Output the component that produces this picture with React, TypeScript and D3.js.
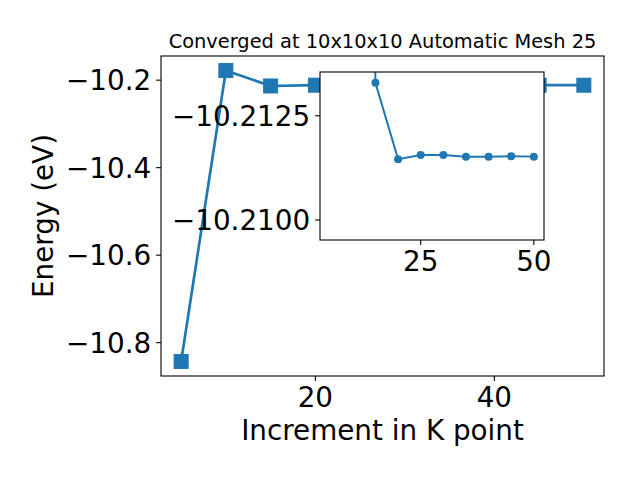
import { useEffect, useRef } from 'react';
import * as d3 from 'd3';

// k-point increments and total energies (eV)
const kPoints = [5, 10, 15, 20, 25, 30, 35, 40, 45, 50];
const energy = [-10.843, -10.178, -10.21329, -10.21146, -10.21156, -10.21156, -10.21152, -10.21152, -10.21153, -10.21152];

// zoomed inset series (first point falls above the inset window)
const insetK = [10, 15, 20, 25, 30, 35, 40, 45, 50];
const insetEnergy = [-10.25, -10.21329, -10.21146, -10.21156, -10.21156, -10.21152, -10.21152, -10.21153, -10.21152];

const xTicks = [20, 40];
const yTicks = [-10.8, -10.6, -10.4, -10.2];
const insetXTicks = [25, 50];
const insetYTicks = [-10.2125, -10.21];

const title = 'Converged at 10x10x10 Automatic Mesh 25';
const xLabel = 'Increment in K point';
const yLabel = 'Energy (eV)';

const BLUE = '#1f77b4';
const FONT = 'DejaVu Sans, sans-serif';
const minus = (s: string) => s.replace('-', '\u2212');

export default function App() {
    const ref = useRef<SVGSVGElement>(null);

    useEffect(() => {
        const svg = d3.select(ref.current);
        svg.selectAll('*').remove();

        const W = 640, H = 480;
        const main = { left: 161, right: 604, top: 56, bottom: 376 };
        const ins = { left: 320, right: 544, top: 72, bottom: 240 };
        const tickLen = 4.9;
        const pad = 4.9;

        svg.append('rect').attr('width', W).attr('height', H).attr('fill', 'white');

        const xExt = d3.extent(kPoints) as [number, number];
        const xm = (xExt[1] - xExt[0]) * 0.05;
        const yExt = d3.extent(energy) as [number, number];
        const ym = (yExt[1] - yExt[0]) * 0.05;

        const x = d3.scaleLinear().domain([xExt[0] - xm, xExt[1] + xm]).range([main.left, main.right]);
        const y = d3.scaleLinear().domain([yExt[0] - ym, yExt[1] + ym]).range([main.bottom, main.top]);

        const defs = svg.append('defs');
        defs.append('clipPath').attr('id', 'clipMain').append('rect')
            .attr('x', main.left).attr('y', main.top)
            .attr('width', main.right - main.left).attr('height', main.bottom - main.top);
        defs.append('clipPath').attr('id', 'clipInset').append('rect')
            .attr('x', ins.left).attr('y', ins.top)
            .attr('width', ins.right - ins.left).attr('height', ins.bottom - ins.top);

        // main series
        const gMain = svg.append('g').attr('clip-path', 'url(#clipMain)');
        const line = d3.line<number>()
            .x((_, i) => x(kPoints[i]))
            .y(d => y(d));
        gMain.append('path')
            .datum(energy)
            .attr('fill', 'none')
            .attr('stroke', BLUE)
            .attr('stroke-width', 2.7)
            .attr('d', line);
        const sq = 14;
        gMain.selectAll('rect.m')
            .data(energy)
            .enter()
            .append('rect')
            .attr('x', (_, i) => x(kPoints[i]) - sq / 2)
            .attr('y', d => y(d) - sq / 2)
            .attr('width', sq)
            .attr('height', sq)
            .attr('fill', BLUE)
            .attr('stroke', BLUE)
            .attr('stroke-width', 1);

        // main frame
        svg.append('rect')
            .attr('x', main.left).attr('y', main.top)
            .attr('width', main.right - main.left).attr('height', main.bottom - main.top)
            .attr('fill', 'none').attr('stroke', 'black').attr('stroke-width', 1.1);

        // main ticks
        xTicks.forEach(t => {
            svg.append('line')
                .attr('x1', x(t)).attr('x2', x(t))
                .attr('y1', main.bottom).attr('y2', main.bottom + tickLen)
                .attr('stroke', 'black').attr('stroke-width', 1.1);
            svg.append('text')
                .attr('x', x(t)).attr('y', main.bottom + tickLen + pad + 21)
                .attr('text-anchor', 'middle')
                .attr('font-family', FONT).attr('font-size', 27.8)
                .text(String(t));
        });
        yTicks.forEach(t => {
            svg.append('line')
                .attr('x1', main.left - tickLen).attr('x2', main.left)
                .attr('y1', y(t)).attr('y2', y(t))
                .attr('stroke', 'black').attr('stroke-width', 1.1);
            svg.append('text')
                .attr('x', main.left - tickLen - pad).attr('y', y(t) + 10)
                .attr('text-anchor', 'end')
                .attr('font-family', FONT).attr('font-size', 27.8)
                .text(minus(d3.format('.1f')(t)));
        });

        // labels and title
        svg.append('text')
            .attr('x', (main.left + main.right) / 2).attr('y', 440)
            .attr('text-anchor', 'middle')
            .attr('font-family', FONT).attr('font-size', 27.8)
            .text(xLabel);
        svg.append('text')
            .attr('transform', `translate(53,${(main.top + main.bottom) / 2}) rotate(-90)`)
            .attr('text-anchor', 'middle')
            .attr('font-family', FONT).attr('font-size', 27.8)
            .text(yLabel);
        svg.append('text')
            .attr('x', (main.left + main.right) / 2).attr('y', 48)
            .attr('text-anchor', 'middle')
            .attr('font-family', FONT).attr('font-size', 19.4)
            .text(title);

        // inset
        const xi = d3.scaleLinear().domain(x.domain()).range([ins.left, ins.right]);
        const yi = d3.scaleLinear().domain([-10.21355, -10.20952]).range([ins.top, ins.bottom]);

        svg.append('rect')
            .attr('x', ins.left).attr('y', ins.top)
            .attr('width', ins.right - ins.left).attr('height', ins.bottom - ins.top)
            .attr('fill', 'white');

        const gIns = svg.append('g').attr('clip-path', 'url(#clipInset)');
        const lineI = d3.line<number>()
            .x((_, i) => xi(insetK[i]))
            .y(d => yi(d));
        gIns.append('path')
            .datum(insetEnergy)
            .attr('fill', 'none')
            .attr('stroke', BLUE)
            .attr('stroke-width', 2)
            .attr('d', lineI);
        gIns.selectAll('circle')
            .data(insetEnergy)
            .enter()
            .append('circle')
            .attr('cx', (_, i) => xi(insetK[i]))
            .attr('cy', d => yi(d))
            .attr('r', 4)
            .attr('fill', BLUE);

        svg.append('rect')
            .attr('x', ins.left).attr('y', ins.top)
            .attr('width', ins.right - ins.left).attr('height', ins.bottom - ins.top)
            .attr('fill', 'none').attr('stroke', 'black').attr('stroke-width', 1.1);

        insetXTicks.forEach(t => {
            svg.append('line')
                .attr('x1', xi(t)).attr('x2', xi(t))
                .attr('y1', ins.bottom).attr('y2', ins.bottom + tickLen)
                .attr('stroke', 'black').attr('stroke-width', 1.1);
            svg.append('text')
                .attr('x', xi(t)).attr('y', ins.bottom + tickLen + pad + 21)
                .attr('text-anchor', 'middle')
                .attr('font-family', FONT).attr('font-size', 27.8)
                .text(String(t));
        });
        insetYTicks.forEach(t => {
            svg.append('line')
                .attr('x1', ins.left - tickLen).attr('x2', ins.left)
                .attr('y1', yi(t)).attr('y2', yi(t))
                .attr('stroke', 'black').attr('stroke-width', 1.1);
            svg.append('text')
                .attr('x', ins.left - tickLen - pad).attr('y', yi(t) + 10)
                .attr('text-anchor', 'end')
                .attr('font-family', FONT).attr('font-size', 27.8)
                .text(minus(d3.format('.4f')(t)));
        });
    }, []);

    return <svg ref={ref} width={640} height={480} style={{ position: 'absolute', left: 0, top: 0 }} />;
}
